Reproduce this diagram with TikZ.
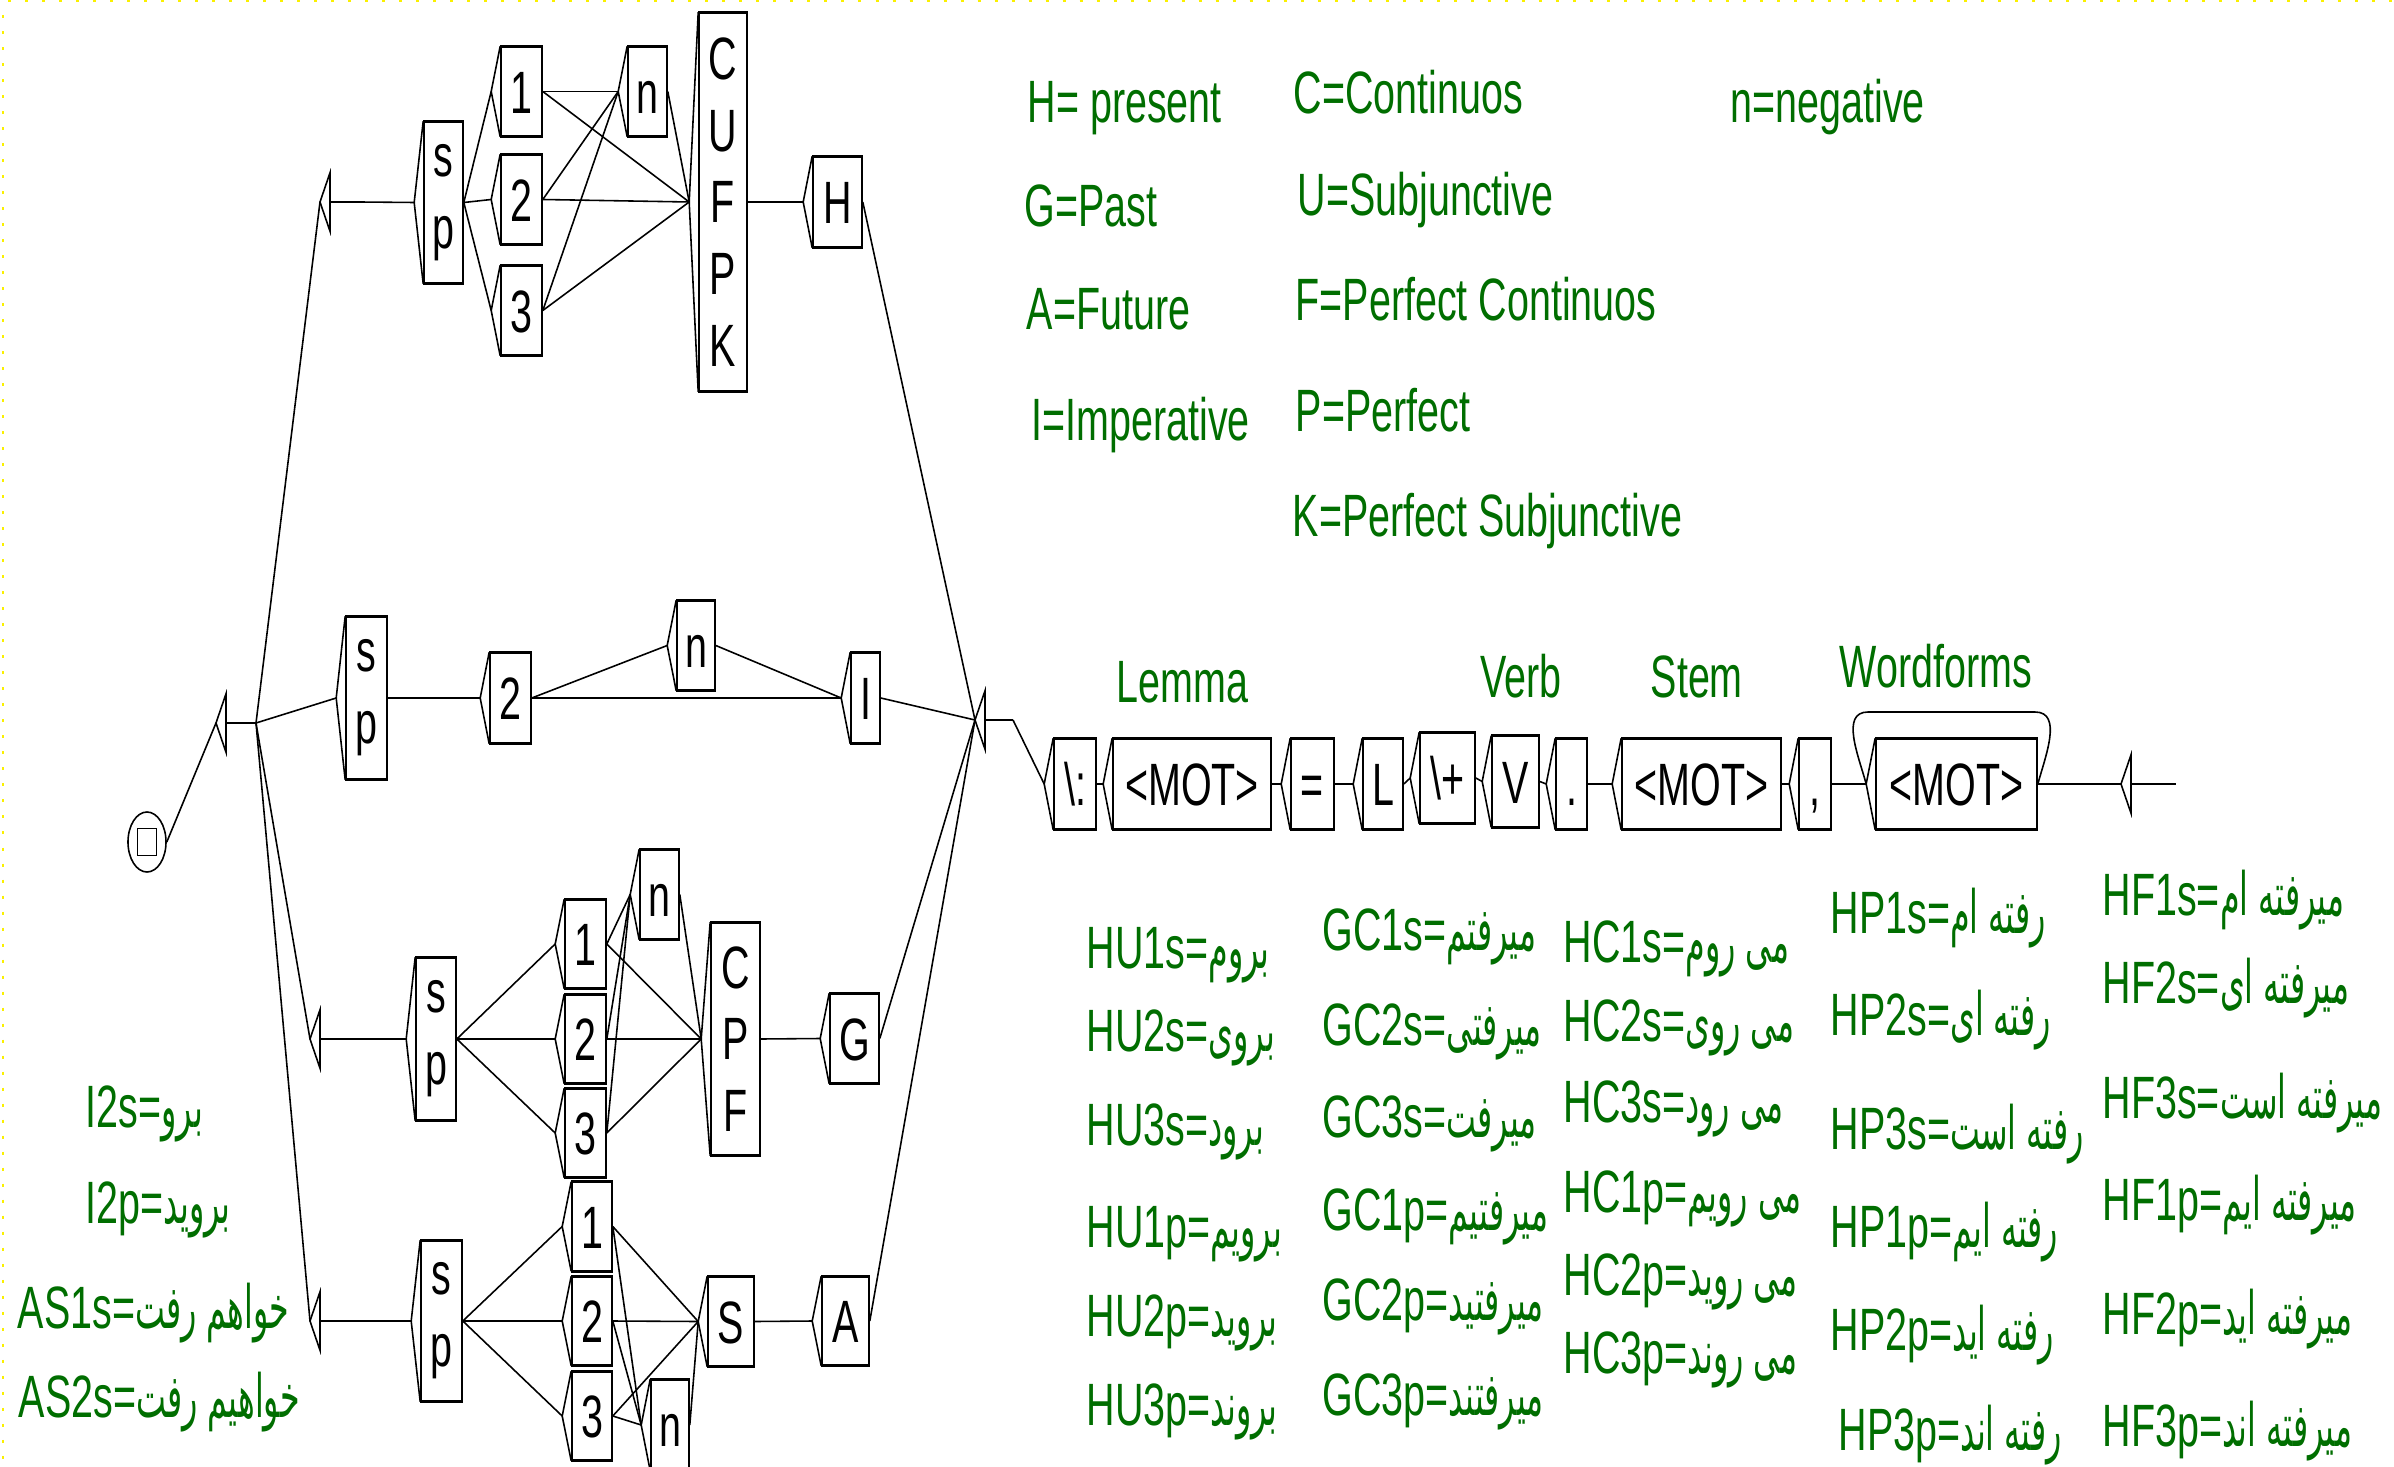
\documentclass[tikz,border=0pt]{standalone}
\usepackage{fontspec}
\usetikzlibrary{shapes.geometric}
\TeXXeTstate=1
\newfontfamily\graphfont[FakeStretch=0.66]{Liberation Sans}
\newfontfamily\farsifont[Script=Arabic,FakeStretch=0.53]{DejaVu Sans}
\newcommand\fatext[1]{{\farsifont\beginR #1\endR}}
\definecolor{notegreen}{RGB}{0,110,0}
\definecolor{gridyellow}{RGB}{250,240,0}

\tikzset{
  box/.style={draw, line width=.45pt, inner sep=0pt, align=center,
    font=\graphfont\fontsize{17}{20.4}\selectfont},
  letter/.style={box, text height=.43cm, text depth=0pt},
  cell/.style={letter, minimum width=.41cm, minimum height=.89cm},
  token/.style={letter, minimum height=.9cm},
  hole/.style={inner sep=0pt, minimum width=0pt, minimum height=.57cm},
  note/.style={anchor=base west, inner sep=0pt, text=notegreen,
    font=\graphfont\fontsize{17}{20.4}\selectfont},
  wire/.style={line width=.45pt},
}

\begin{document}
\begin{tikzpicture}[x=0.01cm, y=-0.01cm]

    \path[use as bounding box, fill=white] (0,0) rectangle (2394,1467);
    \draw[gridyellow, line width=.6pt, dash pattern=on .03cm off .14cm] (8,1) -- (2394,1);
    \draw[gridyellow, line width=.6pt, dash pattern=on .03cm off .13cm] (3,15) -- (3,1467);

    % start state
    \node[draw, ellipse, line width=.45pt, inner sep=0pt, minimum width=.38cm, minimum height=.6cm] (init) at (147,842) {};
    \node[draw, line width=.45pt, inner sep=0pt, minimum width=.19cm, minimum height=.27cm] (initbox) at (init.center) {};

    % empty boxes
    \node[hole] (e0) at (226,723) {};
    \node[hole] (eh) at (330,202) {};
    \node[hole] (eg) at (320,1039) {};
    \node[hole] (ea) at (320,1321) {};
    \node[hole] (e4) at (985,720) {};
    \node[hole] (fin) at (2131,784) {};

    % present
    \node[box, minimum width=.39cm, minimum height=1.61cm] (hsp) at (443.5,202.5) {s\\p};
    \node[cell] (h1) at (521.5,91.5) {1};
    \node[cell] (h2) at (521.5,199.5) {2};
    \node[cell] (h3) at (521.5,310.5) {3};
    \node[letter, minimum width=.39cm, minimum height=.89cm] (hneg) at (647.5,91.5) {n};
    \node[box, minimum width=.48cm, minimum height=3.78cm] (hcu) at (723,202) {C\\U\\F\\P\\K};
    \node[letter, minimum width=.49cm, minimum height=.9cm] (hH) at (837.5,202) {H};

    % imperative
    \node[box, minimum width=.41cm, minimum height=1.62cm] (isp) at (366.5,698) {s\\p};
    \node[cell, minimum height=.9cm] (i2) at (510.5,698) {2};
    \node[letter, minimum width=.38cm, minimum height=.89cm] (ineg) at (696,645.5) {n};
    \node[letter, minimum width=.29cm, minimum height=.9cm] (iI) at (865.5,698) {I};

    % past
    \node[box, minimum width=.40cm, minimum height=1.62cm] (gsp) at (436,1039) {s\\p};
    \node[cell, minimum height=.88cm] (g1) at (585.5,944) {1};
    \node[cell, minimum height=.88cm] (g2) at (585.5,1039) {2};
    \node[cell, minimum height=.88cm] (g3) at (585.5,1133) {3};
    \node[letter, minimum width=.39cm, minimum height=.89cm] (gneg) at (659.5,894.5) {n};
    \node[box, minimum width=.49cm, minimum height=2.32cm] (gcp) at (735.5,1039) {C\\P\\F};
    \node[letter, minimum width=.49cm, minimum height=.89cm] (gG) at (854.5,1038.5) {G};

    % future
    \node[box, minimum width=.41cm, minimum height=1.6cm] (asp) at (441.5,1321) {s\\p};
    \node[cell, minimum width=.40cm, minimum height=.88cm] (a1) at (592,1226.5) {1};
    \node[cell, minimum width=.40cm, minimum height=.88cm] (a2) at (592,1321) {2};
    \node[cell, minimum width=.40cm, minimum height=.88cm] (a3) at (592,1416) {3};
    \node[letter, minimum width=.38cm, minimum height=.9cm] (aneg) at (670,1425) {n};
    \node[letter, minimum width=.46cm, minimum height=.89cm] (aS) at (731,1321.5) {S};
    \node[letter, minimum width=.47cm, minimum height=.88cm] (aA) at (845.5,1321) {A};

    % dictionary line
    \node[token, minimum width=.42cm] (colon) at (1075,784) {\textbackslash:};
    \node[token, minimum width=1.58cm] (mot1) at (1192,784) {<MOT>};
    \node[token, minimum width=.43cm] (eq) at (1312.5,784) {=};
    \node[token, minimum width=.40cm] (L) at (1383,784) {L};
    \node[token, minimum width=.55cm] (plus) at (1447.5,778) {\textbackslash+};
    \node[token, minimum width=.47cm] (V) at (1515.5,781.5) {V};
    \node[token, minimum width=.31cm] (dot) at (1571.5,784) {.};
    \node[token, minimum width=1.59cm] (mot2) at (1701.5,784) {<MOT>};
    \node[token, minimum width=.32cm] (comma) at (1815,784) {,};
    \node[token, minimum width=1.61cm] (mot3) at (1956.5,784) {<MOT>};

    % input wedges and heavy top/bottom edges
    \foreach \b in {hsp,h1,h2,h3,hneg,hcu,hH,isp,i2,ineg,iI,gsp,g1,g2,g3,gneg,gcp,gG,
                    asp,a1,a2,a3,aneg,aS,aA,colon,mot1,eq,L,plus,V,dot,mot2,comma,mot3} {
        \draw[wire] (\b.north west) -- ([xshift=-.09cm]\b.west) coordinate (\b-in) -- (\b.south west);
        \draw[line width=.9pt] (\b.north west) -- (\b.north east) (\b.south west) -- (\b.south east);
    }
    \foreach \e/\s in {e0/30,eh/30,eg/30,ea/30,e4/28,fin/45} {
        \draw[wire] (\e.north) -- ([xshift=-.1cm]\e.center) coordinate (\e-in) -- (\e.south) -- cycle;
        \draw[wire] (\e.center) -- ++(\s,0) coordinate (\e-out);
    }

    % transitions
    \draw[wire] (init.east) -- (e0-in);
    \foreach \t in {eh,isp,eg,ea}
        \draw[wire] (e0-out) -- (\t-in);
    \draw[wire] (eh-out) -- (hsp-in);
    \draw[wire] (eg-out) -- (gsp-in);
    \draw[wire] (ea-out) -- (asp-in);

    \foreach \p in {h1,h2,h3} {
        \draw[wire] (hsp.east) -- (\p-in);
        \draw[wire] (\p.east) -- (hneg-in);
        \draw[wire] (\p.east) -- (hcu-in);
    }
    \foreach \p in {g1,g2,g3} {
        \draw[wire] (gsp.east) -- (\p-in);
        \draw[wire] (\p.east) -- (gneg-in);
        \draw[wire] (\p.east) -- (gcp-in);
    }
    \foreach \p in {a1,a2,a3} {
        \draw[wire] (asp.east) -- (\p-in);
        \draw[wire] (\p.east) -- (aneg-in);
        \draw[wire] (\p.east) -- (aS-in);
    }
    \foreach \a/\b in {hneg/hcu, hcu/hH, isp/i2, i2/ineg, i2/iI, ineg/iI,
                       gneg/gcp, gcp/gG, aneg/aS, aS/aA,
                       colon/mot1, mot1/eq, eq/L, L/plus, plus/V, V/dot,
                       dot/mot2, mot2/comma, comma/mot3, mot3/fin}
        \draw[wire] (\a.east) -- (\b-in);
    \foreach \a in {hH,iI,gG,aA}
        \draw[wire] (\a.east) -- (e4-in);
    \draw[wire] (e4-out) -- (colon-in);

    % loop over the word forms
    \coordinate (loopr) at (2035,712);
    \coordinate (loopl) at (1868,712);
    \draw[wire] (mot3.east) to[out=75,in=0] (loopr) -- (loopl) to[out=180,in=105] (mot3-in);

    % key
    \node[note] (keyH) at (1027,123) {H= present};
    \node[note] (keyG) at (1024,227) {G=Past};
    \node[note] (keyA) at (1026,330) {A=Future};
    \node[note] (keyI) at (1031,441) {I=Imperative};
    \node[note] (keyC) at (1293,114) {C=Continuos};
    \node[note] (keyU) at (1297,216) {U=Subjunctive};
    \node[note] (keyF) at (1295,321) {F=Perfect Continuos};
    \node[note] (keyP) at (1295,432) {P=Perfect};
    \node[note] (keyK) at (1292,536) {K=Perfect Subjunctive};
    \node[note] (keyn) at (1730,123) {n=negative};

    \node[note] (lemma) at (1116,702) {Lemma};
    \node[note] (verb) at (1480,697) {Verb};
    \node[note] (stem) at (1650,697) {Stem};
    \node[note] (forms) at (1839,687) {Wordforms};

    % inflected forms
    \node[note] (I2s) at (85,1127) {I2s=\fatext{برو}};
    \node[note] (I2p) at (85,1223) {I2p=\fatext{بروید}};
    \node[note] (AS1s) at (17,1328) {AS1s=\fatext{خواهم رفت}};
    \node[note] (AS2s) at (18,1417) {AS2s=\fatext{خواهیم رفت}};

    \foreach \n/\y/\w in {1s/968/بروم, 2s/1051/بروی, 3s/1145/برود,
                          1p/1247/برویم, 2p/1336/بروید, 3p/1425/بروند}
        \node[note] (HU\n) at (1086,\y) {HU\n=\fatext{\w}};
    \foreach \n/\y/\w in {1s/950/میرفتم, 2s/1045/میرفتی, 3s/1137/میرفت,
                          1p/1230/میرفتیم, 2p/1320/میرفتید, 3p/1415/میرفتند}
        \node[note] (GC\n) at (1322,\y) {GC\n=\fatext{\w}};
    \foreach \n/\y/\w in {1s/962/می روم, 2s/1041/می روی, 3s/1122/می رود,
                          1p/1212/می رویم, 2p/1295/می روید, 3p/1373/می روند}
        \node[note] (HC\n) at (1563,\y) {HC\n=\fatext{\w}};
    \foreach \n/\x/\y/\w in {1s/1830/933/رفته ام, 2s/1830/1035/رفته ای, 3s/1830/1149/رفته است,
                             1p/1830/1247/رفته ایم, 2p/1830/1350/رفته اید, 3p/1838/1450/رفته اند}
        \node[note] (HP\n) at (\x,\y) {HP\n=\fatext{\w}};
    \foreach \n/\y/\w in {1s/915/میرفته ام, 2s/1003/میرفته ای, 3s/1118/میرفته است,
                          1p/1220/میرفته ایم, 2p/1334/میرفته اید, 3p/1446/میرفته اند}
        \node[note] (HF\n) at (2102,\y) {HF\n=\fatext{\w}};

\end{tikzpicture}
\end{document}
